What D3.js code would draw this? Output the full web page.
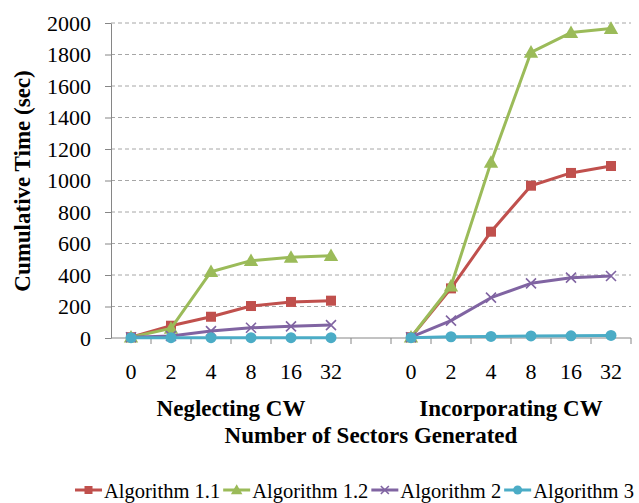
<!DOCTYPE html>
<html>
<head>
<meta charset="utf-8">
<script src="https://cdn.jsdelivr.net/npm/d3@7/dist/d3.min.js"></script>
<style>
  html, body { margin: 0; padding: 0; background: #fff; }
  svg text { font-family: "Liberation Serif", "Times New Roman", Times, serif; }
</style>
</head>
<body>
<svg id="chart" width="639" height="503"></svg>
<script>
// Number of sectors generated (x categories, repeated for each scenario)
const sectors = ["0", "2", "4", "8", "16", "32"];
const groups = ["Neglecting CW", "Incorporating CW"];
const yTicks = [0, 200, 400, 600, 800, 1000, 1200, 1400, 1600, 1800, 2000];

// Cumulative time (sec) per algorithm, neglecting CW
const alg11Neg = [5, 78, 135, 203, 229, 237];
const alg12Neg = [5, 61, 421, 491, 512, 523];
const alg2Neg  = [5, 13, 44, 65, 74, 82];
const alg3Neg  = [2, 2, 2, 2, 2, 2];

// Cumulative time (sec) per algorithm, incorporating CW
const alg11Inc = [5, 315, 675, 967, 1048, 1092];
const alg12Inc = [5, 330, 1115, 1814, 1939, 1965];
const alg2Inc  = [5, 110, 256, 347, 383, 394];
const alg3Inc  = [2, 8, 10, 13, 14, 16];

const seriesNames = ["Algorithm 1.1", "Algorithm 1.2", "Algorithm 2", "Algorithm 3"];
const seriesColors = ["#C0504D", "#9BBB59", "#8064A2", "#4BACC6"];
const seriesMarkers = ["square", "triangle", "cross", "circle"];

const series = [
  { name: seriesNames[0], neg: alg11Neg, inc: alg11Inc },
  { name: seriesNames[1], neg: alg12Neg, inc: alg12Inc },
  { name: seriesNames[2], neg: alg2Neg,  inc: alg2Inc },
  { name: seriesNames[3], neg: alg3Neg,  inc: alg3Inc }
].map((s, i) => ({ ...s, color: seriesColors[i], marker: seriesMarkers[i] }));

const FONT = "'Liberation Serif', 'Times New Roman', Times, serif";
const svg = d3.select("#chart");
const plot = { left: 111, right: 631, top: 23, bottom: 338 };

// 13 category slots: 6 for each scenario with one empty slot between them
const slots = d3.range(13);
const x = d3.scaleBand().domain(slots).range([plot.left, plot.right]).padding(0);
const y = d3.scaleLinear().domain([0, 2000]).range([plot.bottom, plot.top]);
const slotOf = (g, i) => g === 0 ? i : i + 7;
const cx = s => x(s) + x.bandwidth() / 2;

// Horizontal dashed gridlines
svg.append("g")
  .selectAll("line")
  .data(yTicks.filter(d => d > 0))
  .join("line")
  .attr("x1", plot.left).attr("x2", plot.right)
  .attr("y1", d => y(d)).attr("y2", d => y(d))
  .attr("stroke", "#a6a6a6")
  .attr("stroke-width", 1)
  .attr("stroke-dasharray", "4,3");

// Y axis
const yAxis = svg.append("g")
  .attr("transform", `translate(${plot.left},0)`)
  .call(d3.axisLeft(y).tickValues(yTicks).tickFormat(d3.format("d"))
    .tickSize(6).tickPadding(14).tickSizeOuter(0))
  .attr("font-family", FONT)
  .attr("font-size", 22);
yAxis.select(".domain").attr("stroke", "#868686");
yAxis.selectAll(".tick line").attr("stroke", "#868686");
yAxis.selectAll(".tick text").attr("fill", "#000");

// X axis line and slot-boundary ticks
svg.append("line")
  .attr("x1", plot.left).attr("x2", plot.right)
  .attr("y1", plot.bottom).attr("y2", plot.bottom)
  .attr("stroke", "#868686");
svg.append("g")
  .selectAll("line")
  .data(d3.range(1, 14))
  .join("line")
  .attr("x1", d => d < 13 ? x(d) : plot.right)
  .attr("x2", d => d < 13 ? x(d) : plot.right)
  .attr("y1", plot.bottom).attr("y2", plot.bottom + 6)
  .attr("stroke", "#868686");

// X tick labels and scenario labels
groups.forEach((gName, g) => {
  svg.append("g")
    .selectAll("text")
    .data(sectors)
    .join("text")
    .attr("x", (d, i) => cx(slotOf(g, i)))
    .attr("y", 379)
    .attr("text-anchor", "middle")
    .attr("font-family", FONT)
    .attr("font-size", 22)
    .text(d => d);
  const mid = (cx(slotOf(g, 0)) + cx(slotOf(g, 5))) / 2;
  svg.append("text")
    .attr("x", mid).attr("y", 416)
    .attr("text-anchor", "middle")
    .attr("font-family", FONT)
    .attr("font-size", 23)
    .attr("font-weight", "bold")
    .text(gName);
});

// Axis titles
svg.append("text")
  .attr("x", (plot.left + plot.right) / 2).attr("y", 443)
  .attr("text-anchor", "middle")
  .attr("font-family", FONT)
  .attr("font-size", 23)
  .attr("font-weight", "bold")
  .text("Number of Sectors Generated");

svg.append("text")
  .attr("transform", `translate(30,181) rotate(-90)`)
  .attr("text-anchor", "middle")
  .attr("font-family", FONT)
  .attr("font-size", 23)
  .attr("font-weight", "bold")
  .text("Cumulative Time (sec)");

// Marker drawing
function drawMarker(sel, type, color, size) {
  if (type === "square") {
    sel.append("rect")
      .attr("x", -size / 2).attr("y", -size / 2)
      .attr("width", size).attr("height", size)
      .attr("fill", color);
  } else if (type === "triangle") {
    const s = size * 1.2;
    sel.append("path")
      .attr("d", `M0,${-s * 0.6}L${s * 0.6},${s * 0.45}L${-s * 0.6},${s * 0.45}Z`)
      .attr("fill", color);
  } else if (type === "cross") {
    const h = size / 2;
    sel.append("path")
      .attr("d", `M${-h},${-h}L${h},${h}M${-h},${h}L${h},${-h}`)
      .attr("stroke", color).attr("stroke-width", 1.6).attr("fill", "none");
  } else {
    sel.append("circle").attr("r", size / 2 + 0.5).attr("fill", color);
  }
}

// Lines and markers for each series in each scenario
const line = d3.line().x(d => d.x).y(d => d.y);
series.forEach(s => {
  [s.neg, s.inc].forEach((vals, g) => {
    const pts = vals.map((v, i) => ({ x: cx(slotOf(g, i)), y: y(v) }));
    svg.append("path")
      .attr("d", line(pts))
      .attr("fill", "none")
      .attr("stroke", s.color)
      .attr("stroke-width", 3)
      .attr("stroke-linejoin", "round");
    pts.forEach(p => {
      const m = svg.append("g").attr("transform", `translate(${p.x},${p.y})`);
      drawMarker(m, s.marker, s.color, 10);
    });
  });
});

// Legend
const legend = svg.append("g");
let lx = 75;
const ly = 490;
series.forEach(s => {
  const item = legend.append("g");
  item.append("line")
    .attr("x1", lx).attr("x2", lx + 27)
    .attr("y1", ly).attr("y2", ly)
    .attr("stroke", s.color).attr("stroke-width", 3);
  const m = item.append("g").attr("transform", `translate(${lx + 13.5},${ly})`);
  drawMarker(m, s.marker, s.color, 8);
  const t = item.append("text")
    .attr("x", lx + 29).attr("y", 498)
    .attr("font-family", FONT)
    .attr("font-size", 20.5)
    .text(s.name);
  lx += 29 + t.node().getComputedTextLength() + 3;
});
</script>
</body>
</html>
